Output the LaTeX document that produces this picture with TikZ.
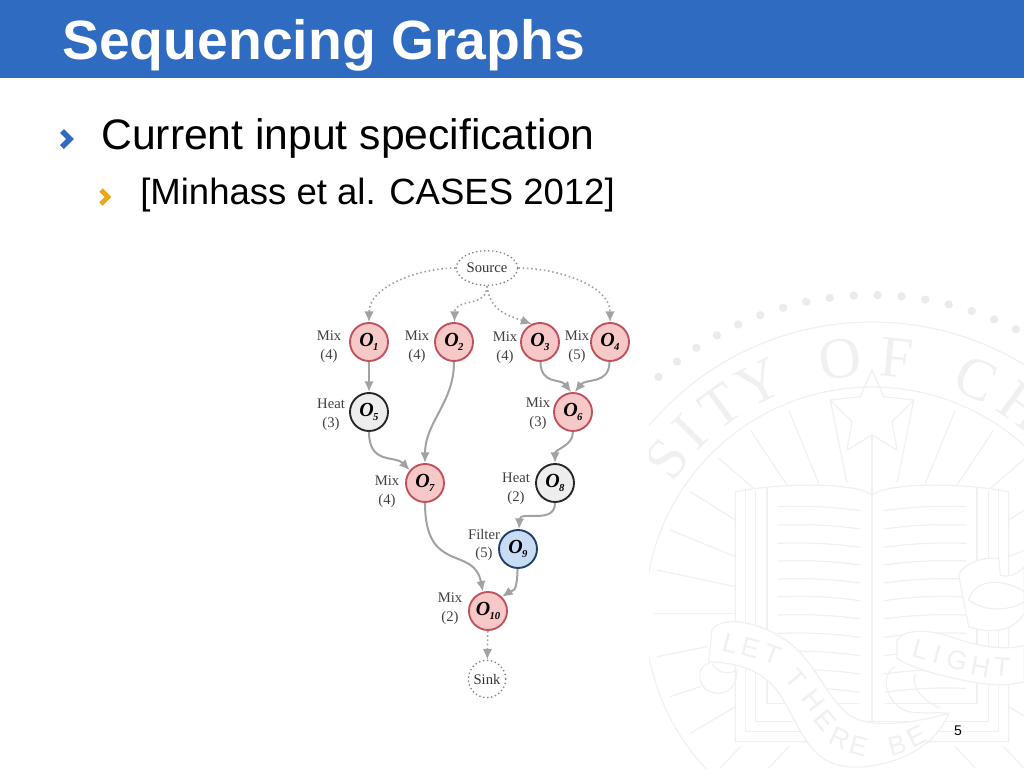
\documentclass[tikz,border=0pt]{standalone}
\usepackage{fontspec}
\setmainfont{Liberation Sans}
\newfontfamily\figserif{Liberation Serif}
\usetikzlibrary{arrows.meta,calc,shapes.geometric}
\definecolor{barblue}{HTML}{2E6BC1}
\definecolor{tickyellow}{HTML}{E8A818}
\definecolor{sealgray}{HTML}{F0F0F0}
\definecolor{edgegray}{HTML}{A2A2A2}
\definecolor{oplinered}{HTML}{C2505A}
\definecolor{opfillred}{HTML}{F6C8C8}
\definecolor{oplineblue}{HTML}{1F3F66}
\definecolor{opfillblue}{HTML}{C8DCF4}
\newcommand{\opname}[1]{{\figserif\bfseries\itshape\fontsize{15}{15}\selectfont O\kern-.5pt\raisebox{-3.5pt}{\fontsize{8}{8}\selectfont #1}}}
\tikzset{
  opnode/.style={circle,draw,line width=1.4pt,minimum size=28.5pt,inner sep=0pt},
  opred/.style={opnode,draw=oplinered,fill=opfillred},
  opgray/.style={opnode,draw=black!85,fill=black!7},
  opblue/.style={opnode,draw=oplineblue,fill=opfillblue},
  portnode/.style={draw=black!50,dotted,line width=1pt,inner sep=0pt,
    font=\figserif\fontsize{11}{12}\selectfont,text=black!80},
  oplabel/.style={align=center,inner sep=0pt,text=black!75,
    font=\figserif\fontsize{11}{14}\selectfont},
  link/.style={draw=edgegray,line width=1.5pt,-{Latex[length=8pt,width=7pt]}},
  dotlink/.style={link,line width=1.2pt,dotted},
  sealline/.style={draw=sealgray,line width=.9pt},
  sealletter/.style={text=sealgray,inner sep=0pt},
}
\begin{document}
\begin{tikzpicture}[x=.75pt,y=-.75pt]
  \useasboundingbox (0,0) rectangle (1024,768);
  % seal behind everything
  \begin{scope}
    \clip (649,78) rectangle (1024,768);
    \foreach \r in {227,292}
      \draw[sealline] (872,614) circle[radius=\r];
    \foreach \k in {-12,...,12}
      \fill[black!8] ($(872,614)+(-89-4.3*\k:319)$) circle[radius=4.2];
    \foreach \t/\a [count=\i] in {S/143,I/135,T/126,Y/116,O/97,F/84.5,C/66,H/54}
      \node[sealletter,font=\figserif\fontsize{44}{44}\selectfont,rotate=\a-90]
        (ring\i) at ($(872,614)+(-\a:257)$) {\t};
    \begin{scope}[shift={(872,280)},x=.25pt,y=-.25pt]
      \foreach \s in {1,-1} {
      \begin{scope}[xscale=\s]
        \draw[sealline] (-250,390) -- (-160,610);
        \draw[sealline] (-365,450) -- (-255,615);
        \draw[sealline] (-460,535) -- (-355,625);
        \draw[sealline] (-545,635) -- (-410,720);
        \draw[sealline] (-605,750) -- (-410,830);
        \draw[sealline] (-645,870) -- (-410,920);
        \draw[sealline] (-655,1000) -- (-410,1000);
        \draw[sealline] (-645,1130) -- (-495,1100);
        \draw[sealline] (-605,1250) -- (-515,1220);
        \draw[sealline] (-545,1360) -- (-410,1280);
        \draw[sealline] (-455,1464) -- (-395,1400);
        \draw[sealline] (-310,1464) -- (-250,1400);
        \draw[sealline] (-125,360) -- (-75,610);
        % book
        \draw[sealline] (0,645) .. controls (-40,610) and (-250,605) .. (-410,635)
          -- (-410,1385) -- (0,1385);
        \draw[sealline] (-380,628) -- (-380,1355) -- (0,1355);
        \draw[sealline] (-350,632) -- (-350,1325) -- (0,1325);
        \draw[sealline] (-315,625) -- (-315,1270) -- (-40,1270);
        \foreach \y in {680,735,790,843,897,950,1005,1060,1115,1170,1225}
          \draw[sealline] (-283,\y) .. controls (-200,\y-3) and (-120,\y) .. (-35,\y+12);
      \end{scope}
      }
      \draw[sealline] (0,270) -- (-35,350) -- (-125,360) -- (-60,425) -- (-75,510)
        -- (0,465) -- (75,510) -- (60,425) -- (125,360) -- (35,350) -- cycle;
      \draw[sealline] (0,465) -- (0,1325);
      % ribbon, left band
      \draw[sealline,fill=white] (-480,1050) .. controls (-455,1010) and (-355,1020) .. (-275,1070)
        .. controls (-175,1130) and (-145,1240) .. (-75,1300)
        .. controls (-15,1350) and (125,1330) .. (230,1300)
        .. controls (185,1420) and (25,1470) .. (-75,1460)
        .. controls (-175,1450) and (-205,1370) .. (-255,1280)
        .. controls (-295,1200) and (-355,1150) .. (-490,1145) -- cycle;
      \draw[sealline] (-485,1150) .. controls (-525,1150) and (-530,1220) .. (-485,1235)
        .. controls (-445,1250) and (-405,1230) .. (-405,1170);
      \draw[sealline] (-480,1150) .. controls (-465,1180) and (-430,1185) .. (-405,1170);
      % ribbon, right band
      \draw[sealline,fill=white] (75,1080) .. controls (105,1040) and (185,1050) .. (265,1080)
        .. controls (345,1105) and (415,1110) .. (457,1095) -- (457,1205)
        .. controls (385,1225) and (305,1210) .. (205,1185)
        .. controls (145,1170) and (95,1150) .. (75,1135) -- cycle;
      \draw[sealline] (70,1160) .. controls (35,1170) and (25,1250) .. (95,1290)
        .. controls (130,1305) and (190,1295) .. (230,1300);
      \draw[sealline] (130,1180) .. controls (115,1220) and (150,1260) .. (205,1285);
      % scroll, top right
      \draw[sealline,fill=white] (260,885) .. controls (275,850) and (330,830) .. (380,835)
        -- (385,885) .. controls (410,895) and (440,880) .. (457,860) -- (457,1000)
        .. controls (420,1060) and (350,1060) .. (290,1040) -- cycle;
      \draw[sealline] (290,960) .. controls (305,900) and (385,890) .. (457,935);
      \draw[sealline] (290,960) .. controls (345,1000) and (420,990) .. (457,965);
      \foreach \t/\px/\py/\a [count=\i] in {L/-425/1090/-15,E/-365/1105/-15,T/-300/1125/-20,
          T/-228/1195/-50,H/-176/1262/-52,E/-140/1322/-50,R/-95/1375/-25,E/-40/1398/-15,
          B/75/1395/15,E/135/1370/25,L/145/1110/-15,I/195/1125/-15,G/255/1140/-15,
          H/325/1160/-10,T/390/1160/-5}
        \node[sealletter,font=\fontsize{20}{20}\selectfont,rotate=\a] (rib\i) at (\px,\py) {\t};
    \end{scope}
  \end{scope}
  % header
  \fill[barblue] (0,0) rectangle (1024,78);
  \node[anchor=base west,inner sep=0pt,text=white,font=\bfseries\fontsize{41.5}{42}\selectfont]
    (title) at (62,59) {Sequencing Graphs};
  \node[anchor=base west,inner sep=0pt,font=\fontsize{32}{34}\selectfont]
    (item) at (101,149) {Current input specification};
  \node[anchor=base west,inner sep=0pt,font=\fontsize{27.4}{30}\selectfont]
    (subitem) at (140,204) {[Minhass et al. CASES 2012]};
  \draw[barblue,line width=4pt] (62,131) -- (70,139) -- (62,147);
  \draw[tickyellow,line width=3.6pt] (101,190) -- (108,197) -- (101,204);
  \node[inner sep=0pt,font=\fontsize{10.5}{11}\selectfont] (page) at (958,731) {5};
  % sequencing graph
  \node[portnode,ellipse,minimum width=46pt,minimum height=26pt] (src) at (487,268) {Source};
  \node[portnode,circle,minimum size=28pt] (sink) at (487,679) {Sink};
  \node[opred] (o1) at (369,342) {\opname{1}};
  \node[opred] (o2) at (454,342) {\opname{2}};
  \node[opred] (o3) at (540,342) {\opname{3}};
  \node[opred] (o4) at (610,342) {\opname{4}};
  \node[opgray] (o5) at (369,412) {\opname{5}};
  \node[opred] (o6) at (573,412) {\opname{6}};
  \node[opred] (o7) at (425,483) {\opname{7}};
  \node[opgray] (o8) at (555,483) {\opname{8}};
  \node[opblue] (o9) at (518,549) {\opname{9}};
  \node[opred] (o10) at (488,611) {\opname{10}};
  \node[oplabel] (l1) at (329,347) {Mix\\(4)};
  \node[oplabel] (l2) at (417,347) {Mix\\(4)};
  \node[oplabel] (l3) at (505,348) {Mix\\(4)};
  \node[oplabel] (l4) at (577,347) {Mix\\(5)};
  \node[oplabel] (l5) at (331,415) {Heat\\(3)};
  \node[oplabel] (l6) at (538,414) {Mix\\(3)};
  \node[oplabel] (l7) at (387,492) {Mix\\(4)};
  \node[oplabel] (l8) at (516,489) {Heat\\(2)};
  \node[oplabel] (l9) at (484,545) {Filter\\(5)};
  \node[oplabel] (l10) at (450,609) {Mix\\(2)};
  \begin{scope}[dotlink]
    \draw (src) to[out=180,in=90,looseness=.9] (o1);
    \draw (src.south) .. controls (487,308) and (455,298) .. (o2);
    \draw (src.south) .. controls (490,312) and (510,316) .. (o3.115);
    \draw (src) to[out=0,in=90,looseness=.9] (o4);
    \draw (o10) to (sink);
  \end{scope}
  \begin{scope}[link]
    \draw (o1) to (o5);
    \draw (o5) .. controls (369,465) and (395,455) .. (o7.140);
    \draw (o2) to[out=-90,in=90] (o7);
    \draw (o3) .. controls (541,385) and (560,378) .. (o6.95);
    \draw (o4) .. controls (609,385) and (586,378) .. (o6.85);
    \draw (o6) to[out=-90,in=90] (o8);
    \draw (o7) .. controls (425,575) and (474,545) .. (o10.105);
    \draw (o8) .. controls (555,525) and (520,510) .. (o9);
    \draw (o9) .. controls (517,595) and (512,590) .. (o10.45);
  \end{scope}
\end{tikzpicture}
\end{document}
